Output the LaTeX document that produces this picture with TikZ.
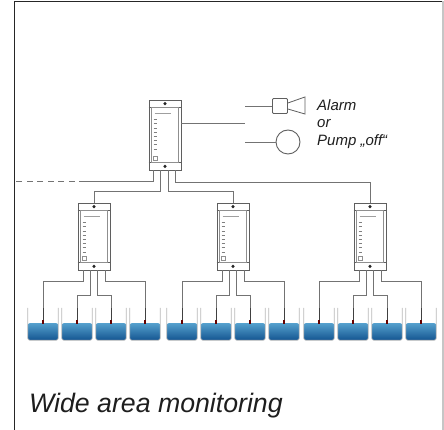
\documentclass[tikz,border=0pt]{standalone}
\usepackage{fontspec}
\setmainfont{Liberation Sans}
\usetikzlibrary{calc}
\definecolor{wirec}{RGB}{115,115,115}
\definecolor{devc}{RGB}{95,95,95}
\definecolor{waterT}{RGB}{85,160,205}
\definecolor{waterB}{RGB}{20,85,145}
\definecolor{txtc}{RGB}{30,30,30}
\newcommand\devdetail[1]{%
  \draw[devc,line width=0.7pt] ([yshift=-8pt]#1.north west) -- ([yshift=-8pt]#1.north east);
  \draw[devc,line width=0.7pt] ([yshift=8pt]#1.south west) -- ([yshift=8pt]#1.south east);
  \draw[devc!70,line width=0.5pt] ([xshift=3pt,yshift=-8pt]#1.north west) rectangle ([xshift=-3pt,yshift=8pt]#1.south east);
  \fill[black!85] ([yshift=-4pt]#1.north) circle (1.7pt);
  \fill[black!85] ([yshift=4pt]#1.south) circle (1.7pt);
  \draw[devc!60,line width=0.6pt] ([xshift=6pt,yshift=-14pt]#1.north west) -- ([xshift=22pt,yshift=-14pt]#1.north west);
  \foreach \i in {0,...,7}{\draw[devc!80,line width=0.8pt] ([xshift=5pt,yshift=-20pt-\i*4.2pt]#1.north west) -- ([xshift=8pt,yshift=-20pt-\i*4.2pt]#1.north west);}
  \draw[devc!70,line width=0.5pt] ([xshift=5pt,yshift=10pt]#1.south west) rectangle ([xshift=9pt,yshift=14pt]#1.south west);
}
\begin{document}
\begin{tikzpicture}[x=1pt,y=-1pt,
  wire/.style={draw=wirec,line width=0.9pt},
  dev/.style={draw=devc,line width=0.8pt,minimum width=32pt,minimum height=67pt,inner sep=0pt,fill=white},
  tank/.style={minimum width=30pt,minimum height=32pt,inner sep=0pt},
  probe/.style={draw=black!75,line width=1pt},
  lbl/.style={anchor=west,text=txtc,font=\itshape\fontsize{15}{18}\selectfont,inner sep=0pt}]
\useasboundingbox (0,0) rectangle (444,430);
\draw[line width=1.3pt,black!85] (14.5,430) -- (14.5,1.3) -- (444,1.3);
\draw[gray!45,line width=1.2pt] (443,1.3) -- (443,430);
% main controller
\node[dev,minimum height=70pt] (m) at (165,135) {};
\devdetail{m}
% sub controllers and tanks
\foreach \g/\cx in {1/94,2/233,3/370}{
  \node[dev] (d\g) at (\cx,236.5) {};
  \devdetail{d\g}
  \foreach \k/\dx in {1/-51,2/-17,3/17,4/51}{
    \node[tank] (t\g\k) at (\cx+\dx,324) {};
    \shade[top color=waterT,bottom color=waterB,rounded corners=2pt]
      ($(t\g\k.south west)+(0,-17)$) -- (t\g\k.south west) -- (t\g\k.south east) -- ($(t\g\k.south east)+(0,-17)$) -- cycle;
    \draw[gray!55,line width=0.7pt,rounded corners=2pt] (t\g\k.north west) -- (t\g\k.south west) -- (t\g\k.south east) -- (t\g\k.north east);
    \draw[probe] (t\g\k.north) -- (t\g\k.center);
    \draw[line width=1.2pt,red!40!black] ($(t\g\k.center)+(0,-4)$) -- (t\g\k.center);
  }
  \draw[wire] ([xshift=-11pt]d\g.south) -- ++(0,11) -| (t\g1.north);
  \draw[wire] ([xshift=-4pt]d\g.south) -- ++(0,25) -| (t\g2.north);
  \draw[wire] ([xshift=3pt]d\g.south) -- ++(0,25) -| (t\g3.north);
  \draw[wire] ([xshift=11pt]d\g.south) -- ++(0,11) -| (t\g4.north);
}
% main wiring
\coordinate (netA) at (85,181);
\coordinate (netB) at (15,181);
\draw[wire] ([xshift=-12pt]m.south) |- (netA);
\draw[wire,dash pattern=on 6pt off 4.5pt] (netA) -- (netB);
\draw[wire] ([xshift=-5pt]m.south) -- ++(0,21) -| (d1.north);
\draw[wire] ([xshift=3pt]m.south) -- ++(0,21) -| (d2.north);
\draw[wire] ([xshift=10pt]m.south) -- ++(0,12) -| (d3.north);
% outputs
\coordinate (mr) at (245,123);
\draw[wire] (m.east |- mr) -- (mr);
\coordinate (a0) at (245,106);
\node[draw=devc,line width=0.8pt,minimum width=15pt,minimum height=15pt,inner sep=0pt,rounded corners=1pt] (ab) at (280,106) {};
\draw[wire] (a0) -- (ab.west);
\draw[devc,line width=0.8pt] ([yshift=3pt]ab.east) -- ++(17,-6) -- ++(0,17) -- ([yshift=-3pt]ab.east);
\coordinate (p0) at (245,142);
\node[draw=devc,line width=0.9pt,circle,minimum size=24pt,inner sep=0pt] (pc) at (288,142) {};
\draw[wire] (p0) -- (pc.west);
\node[lbl] (t1) at (317,105) {Alarm};
\node[lbl] (t2) at (317,124) {or};
\node[lbl] (t3) at (317,142) {Pump „off“};
\node[anchor=base west,text=txtc,font=\itshape\fontsize{26.7}{30}\selectfont,inner sep=0pt] (cap) at (29,412) {Wide area monitoring};
\end{tikzpicture}
\end{document}
